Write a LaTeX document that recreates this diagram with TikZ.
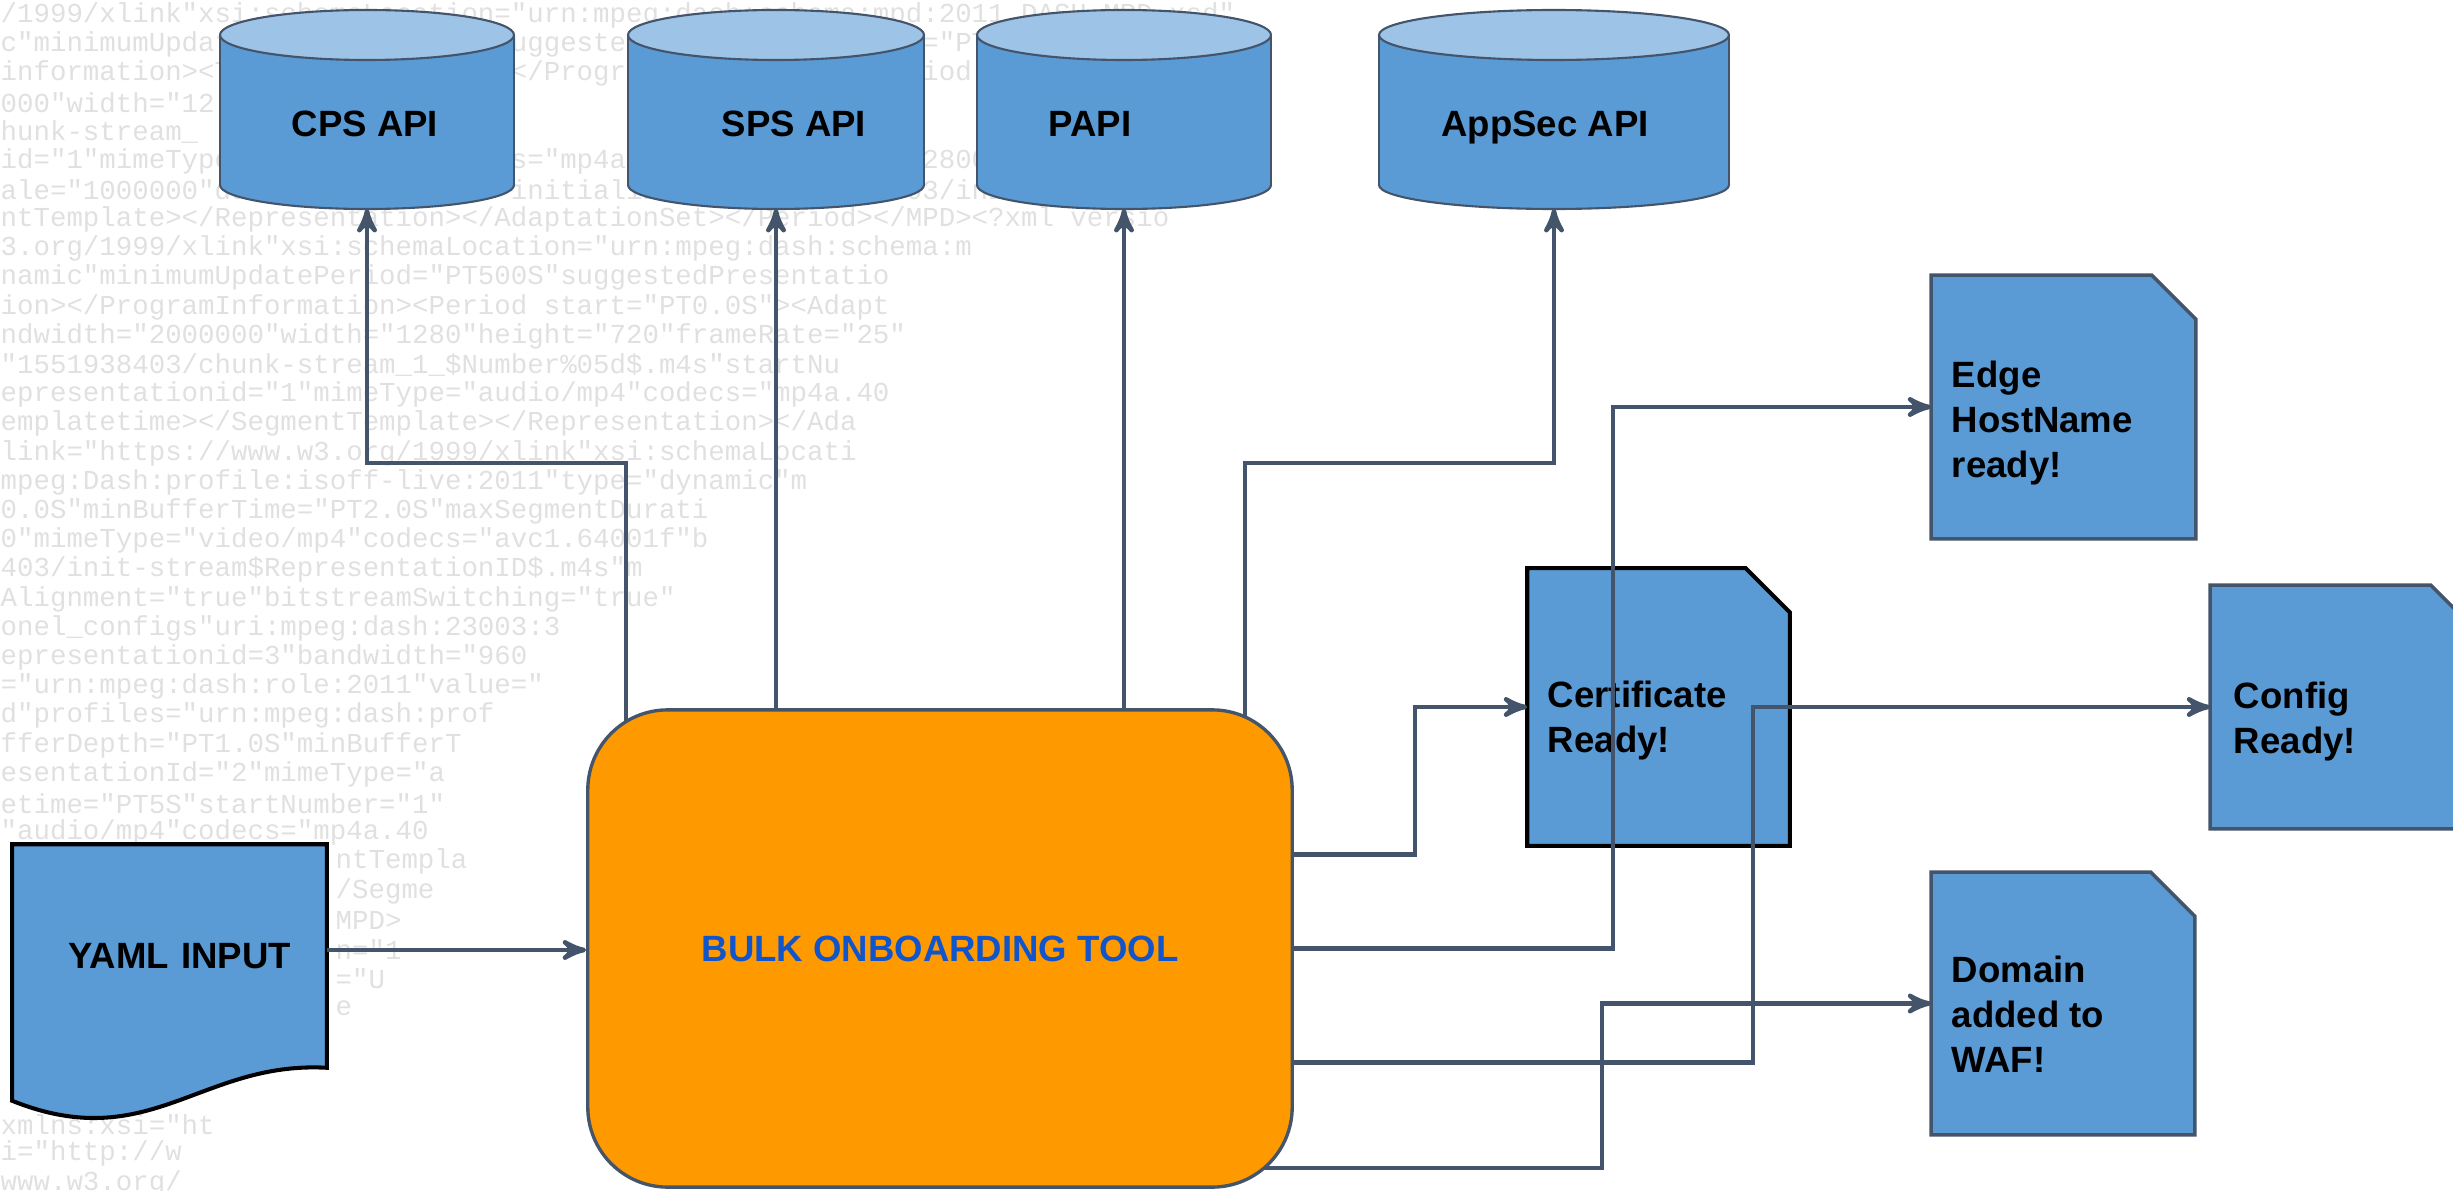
\documentclass[tikz,border=0pt]{standalone}
\usepackage{fontspec}
\setmainfont{Liberation Sans}
\newfontfamily\bgmono{Liberation Mono}
\usepackage{tikz}
\usetikzlibrary{arrows,positioning}

\definecolor{dbblue}{HTML}{5B9BD5}
\definecolor{dbtop}{HTML}{9DC3E6}
\definecolor{slate}{HTML}{44546A}
\definecolor{toolorange}{HTML}{FF9900}
\definecolor{toolblue}{HTML}{1155CC}

\pgfdeclarelayer{back}
\pgfdeclarelayer{front}
\pgfsetlayers{back,main,front}

\begin{document}
\begin{tikzpicture}[>=stealth',x=0.01cm,y=-0.01cm,
                    font=\fontsize{10.4}{12.8}\selectfont\bfseries]
  \tikzstyle{flow}=[->,draw=slate,line width=1.3pt]
  \tikzstyle{bgline}=[anchor=west,inner sep=0,text=black!12,font=\bgmono\fontsize{7.8}{9}\selectfont]
  \tikzstyle{dbside}=[fill=dbblue,draw=slate,line width=0.6pt]
  \tikzstyle{dbcap}=[fill=dbtop,draw=slate,line width=0.6pt]
  \tikzstyle{dbtext}=[anchor=base,inner sep=0]
  \tikzstyle{docbox}=[inner sep=0]
  \tikzstyle{doctext}=[align=left,inner sep=0]
  \tikzstyle{tool}=[draw=slate,line width=0.95pt,fill=toolorange,rounded corners=0.8cm,
                    minimum width=7.04cm,minimum height=4.77cm,text=toolblue]
  \tikzstyle{yamlin}=[minimum width=3.13cm,minimum height=2.22cm,text width=2.43cm,
                      align=right,inner sep=0]
  \tikzstyle{yamlshape}=[fill=dbblue,draw=black,line width=1.15pt]

  \useasboundingbox (0,0) rectangle (2453,1191);

  \begin{pgfonlayer}{back}
    \foreach \row [count=\i] in {
      /1999/xlink"xsi:schemaLocation="urn:mpeg:dash:schema:mpd:2011 DASH-MPD.xsd",
      c"minimumUpdatePeriod="PT500S"suggestedPresentationDelay="PT10S"availabil,
      information><Title>live</Title></ProgramInformation><Period start="PT0.0S,
      000"width="12,
      hunk-stream\_,
      id="1"mimeType="audio/mp4"codecs="mp4a.40.2"bandwidth="128000"audioSampl,
      ale="1000000"duration="5000000"initialization="1551938403/init-stream1.m,
      ntTemplate></Representation></AdaptationSet></Period></MPD><?xml versio,
      3.org/1999/xlink"xsi:schemaLocation="urn:mpeg:dash:schema:m,
      namic"minimumUpdatePeriod="PT500S"suggestedPresentatio,
      ion></ProgramInformation><Period start="PT0.0S"><Adapt,
      ndwidth="2000000"width="1280"height="720"frameRate="25",
      "1551938403/chunk-stream\_1\_\$Number\%05d\$.m4s"startNu,
      epresentationid="1"mimeType="audio/mp4"codecs="mp4a.40,
      emplatetime></SegmentTemplate></Representation></Ada,
      link="https://www.w3.org/1999/xlink"xsi:schemaLocati,
      mpeg:Dash:profile:isoff-live:2011"type="dynamic"m,
      0.0S"minBufferTime="PT2.0S"maxSegmentDurati,
      0"mimeType="video/mp4"codecs="avc1.64001f"b,
      403/init-stream\$RepresentationID\$.m4s"m,
      Alignment="true"bitstreamSwitching="true",
      onel\_configs"uri:mpeg:dash:23003:3,
      epresentationid=3"bandwidth="960,
      ="urn:mpeg:dash:role:2011"value=",
      d"profiles="urn:mpeg:dash:prof,
      fferDepth="PT1.0S"minBufferT,
      esentationId="2"mimeType="a,
      etime="PT5S"startNumber="1",
      "audio/mp4"codecs="mp4a.40}
      \node[bgline] (bg\i) at (0,15+29.2*\i-29.2) {\row};
    \foreach \row [count=\i from 30] in {ntTempla,/Segme,MPD>,n="1,="U,e}
      \node[bgline] (bg\i) at (335,15+29.2*\i-29.2) {\row};
    \foreach \row [count=\i from 39] in {xmlns:xsi="ht,i="http://w,www.w3.org/}
      \node[bgline] (bg\i) at (0,15+29.2*\i-29.2) {\row};
  \end{pgfonlayer}

  \foreach \nm/\cx/\rx/\lx/\txt in {cps/367/147/365/CPS API,sps/776/148/794/SPS API,
                                    papi/1124/147/1090/PAPI,appsec/1554/175/1545/AppSec API} {
    \filldraw[dbside] (\cx,185) ellipse [x radius=\rx,y radius=24];
    \fill[dbblue] (\cx-\rx,35) rectangle (\cx+\rx,185);
    \draw[dbside] (\cx-\rx,35) -- (\cx-\rx,185) (\cx+\rx,35) -- (\cx+\rx,185);
    \filldraw[dbcap] (\cx,35) ellipse [x radius=\rx,y radius=25];
    \node[dbtext] (\nm) at (\lx,137) {\txt};
    \coordinate (\nm-b) at (\cx,209);
  }

  \node[yamlin] (yaml) at (169.5,956) {YAML INPUT};
  \begin{pgfonlayer}{back}
    \filldraw[yamlshape] (yaml.north west) -- (yaml.north east) -- (yaml.south east)
      .. controls ([xshift=-1.26cm,yshift=0.07cm]yaml.south east)
      and ([xshift=1.37cm,yshift=-0.88cm]yaml.south west)
      .. ([yshift=-0.33cm]yaml.south west) -- cycle;
  \end{pgfonlayer}
  \coordinate (yamlout) at ([yshift=0.06cm]yaml.east);

  \node[docbox,minimum width=2.61cm,minimum height=2.76cm] (cert) at (1658.5,707) {};
  \node[docbox,minimum width=2.63cm,minimum height=2.62cm] (edge) at (2063.5,407) {};
  \node[docbox,minimum width=2.63cm,minimum height=2.42cm] (config) at (2342.5,707) {};
  \node[docbox,minimum width=2.62cm,minimum height=2.61cm] (domain) at (2063,1003.5) {};
  \foreach \nm/\ln/\lw in {cert/black/1.15pt,edge/slate/1pt,config/slate/1pt,domain/slate/1pt}
    \filldraw[fill=dbblue,draw=\ln,line width=\lw] (\nm.north west)
      -- ([xshift=-0.44cm]\nm.north east) -- ([yshift=-0.44cm]\nm.north east)
      -- (\nm.south east) -- (\nm.south west) -- cycle;

  \node[doctext,right=0.2cm of cert.west,yshift=-0.14cm] (certl) {Certificate\\Ready!};
  \node[doctext,right=0.2cm of edge.west,yshift=-0.16cm] (edgel) {Edge\\HostName\\ready!};
  \node[doctext,right=0.23cm of config.west,yshift=-0.15cm] (configl) {Config\\Ready!};
  \node[doctext,right=0.2cm of domain.west,yshift=-0.11cm] (domainl) {Domain\\added to\\WAF!};

  \begin{pgfonlayer}{front}
    \node[tool] (tool) at (940,948.5) {BULK ONBOARDING TOOL};
  \end{pgfonlayer}

  \draw[flow] (yamlout) -- (yamlout -| tool.west);
  \draw[flow] ([xshift=0.4cm,yshift=-0.3cm]tool.north west) -- ++(0,-275) -| (cps-b);
  \draw[flow] (tool.north -| sps-b) -- (sps-b);
  \draw[flow] (tool.north -| papi-b) -- (papi-b);
  \draw[flow] ([xshift=-0.49cm,yshift=-0.3cm]tool.north east) -- ++(0,-275) -| (appsec-b);
  \draw[flow] ([yshift=0.94cm]tool.east) -- ++(121,0) |- (cert);
  \draw[flow] (tool.east) -- ++(319,0) |- (edge);
  \draw[flow] ([yshift=-1.14cm]tool.east) -- ++(459,0) |- (config);
  \draw[flow] ([xshift=-0.4cm,yshift=0.21cm]tool.south east) -- ++(348,0) |- (domain);
\end{tikzpicture}
\end{document}
